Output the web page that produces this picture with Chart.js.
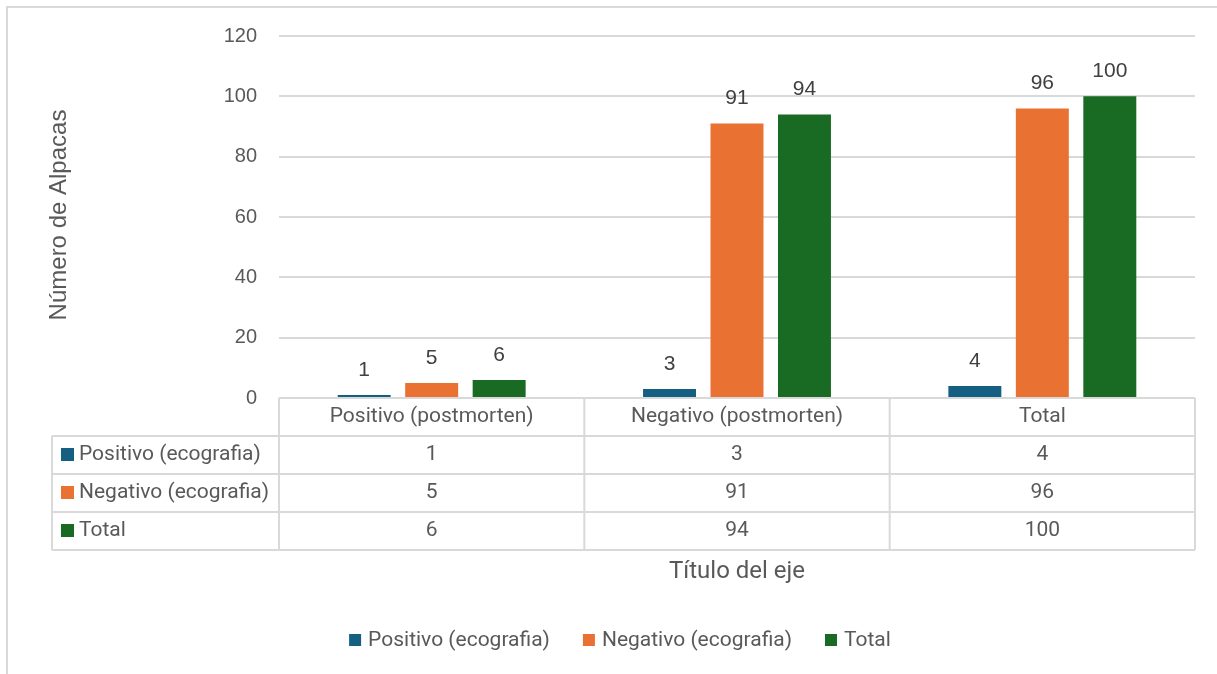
<!DOCTYPE html>
<html>
<head>
<meta charset="utf-8">
<script src="https://cdn.jsdelivr.net/npm/chart.js@4.4.1/dist/chart.umd.min.js"></script>
<style>
  html, body { margin: 0; padding: 0; background: #ffffff; }
  #wrap { position: relative; width: 1217px; height: 674px; }
</style>
</head>
<body>
<div id="wrap"><canvas id="c" width="1217" height="674"></canvas></div>
<script>
// Categories (postmortem result) and series (ultrasound result)
const categories = ['Positivo (postmorten)', 'Negativo (postmorten)', 'Total'];
const seriesNames = ['Positivo (ecografia)', 'Negativo (ecografia)', 'Total'];
const positivoEco = [1, 3, 4];
const negativoEco = [5, 91, 96];
const totalEco = [6, 94, 100];
const yTicks = [0, 20, 40, 60, 80, 100, 120];

const seriesColors = ['#156082', '#E97132', '#196B24'];
const textColor = '#595959';
const lineColor = '#D9D9D9';
const sans = '"Liberation Sans", Arial, sans-serif';
const narrow = 'Roboto, "Liberation Sans", sans-serif';

// Geometry of the chart area and the data table below it
const plotTop = 36, plotBottom = 398, plotLeft = 279, plotRight = 1195;
const tableLeft = 52, rowH = 38;

const seriesValues = [positivoEco, negativoEco, totalEco];

// Frame around the chart
const framePlugin = {
  id: 'frame',
  beforeDraw(chart) {
    const ctx = chart.ctx;
    ctx.save();
    ctx.strokeStyle = lineColor;
    ctx.lineWidth = 2;
    ctx.beginPath();
    ctx.moveTo(7, 674);
    ctx.lineTo(7, 7);
    ctx.lineTo(1217, 7);
    ctx.stroke();
    ctx.restore();
  }
};

// Value labels above every bar
const valueLabels = {
  id: 'valueLabels',
  afterDatasetsDraw(chart) {
    const ctx = chart.ctx;
    ctx.save();
    ctx.font = '21px ' + sans;
    ctx.fillStyle = '#404040';
    ctx.textAlign = 'center';
    ctx.textBaseline = 'middle';
    chart.data.datasets.forEach((ds, i) => {
      chart.getDatasetMeta(i).data.forEach((bar, j) => {
        ctx.fillText(String(ds.data[j]), bar.x, bar.y - 25);
      });
    });
    ctx.restore();
  }
};

// Data table under the axis, with legend keys
const dataTable = {
  id: 'dataTable',
  afterDraw(chart) {
    const ctx = chart.ctx;
    const x = chart.scales.x;
    const area = chart.chartArea;
    const n = categories.length;
    const colW = (area.right - area.left) / n;
    const top = area.bottom;
    const rows = chart.data.datasets.length;
    const bottom = top + rowH * (rows + 1);
    ctx.save();
    ctx.strokeStyle = lineColor;
    ctx.lineWidth = 2;
    ctx.beginPath();
    // horizontal lines
    ctx.moveTo(area.left, top); ctx.lineTo(area.right, top);
    for (let r = 1; r <= rows + 1; r++) {
      const y = top + rowH * r;
      ctx.moveTo(tableLeft, y); ctx.lineTo(area.right, y);
    }
    // vertical lines
    ctx.moveTo(tableLeft, top + rowH); ctx.lineTo(tableLeft, bottom);
    for (let c = 0; c <= n; c++) {
      const xx = area.left + colW * c;
      ctx.moveTo(xx, top); ctx.lineTo(xx, bottom);
    }
    ctx.stroke();

    ctx.fillStyle = textColor;
    ctx.font = '21px ' + narrow;
    ctx.textBaseline = 'middle';
    ctx.textAlign = 'center';
    categories.forEach((cat, c) => {
      ctx.fillText(cat, x.getPixelForValue(c), top + rowH / 2);
    });
    chart.data.datasets.forEach((ds, r) => {
      const yMid = top + rowH * (r + 1) + rowH / 2;
      ctx.fillStyle = ds.backgroundColor;
      ctx.fillRect(tableLeft + 9, yMid - 7, 13, 13);
      ctx.fillStyle = textColor;
      ctx.textAlign = 'left';
      ctx.fillText(ds.label, tableLeft + 27, yMid);
      ctx.textAlign = 'center';
      ds.data.forEach((v, c) => {
        ctx.fillText(String(v), x.getPixelForValue(c), yMid);
      });
    });

    // axis titles
    ctx.font = '24px ' + narrow;
    ctx.fillText('Título del eje', (area.left + area.right) / 2, 572);
    ctx.save();
    ctx.translate(59, 215);
    ctx.rotate(-Math.PI / 2);
    ctx.font = '24px ' + sans;
    ctx.fillText('Número de Alpacas', 0, 0);
    ctx.restore();

    // legend
    ctx.font = '21px ' + narrow;
    const gap = 33;
    const widths = chart.data.datasets.map(ds => 19 + ctx.measureText(ds.label).width);
    const total = widths.reduce((a, b) => a + b, 0) + gap * (widths.length - 1);
    let lx = 620 - total / 2;
    const ly = 641;
    chart.data.datasets.forEach((ds, i) => {
      ctx.fillStyle = ds.backgroundColor;
      ctx.fillRect(lx, ly - 7, 12, 12);
      ctx.fillStyle = textColor;
      ctx.textAlign = 'left';
      ctx.fillText(ds.label, lx + 19, ly);
      lx += widths[i] + gap;
    });
    ctx.restore();
  }
};

new Chart(document.getElementById('c'), {
  type: 'bar',
  data: {
    labels: categories,
    datasets: seriesNames.map((name, i) => ({
      label: name,
      data: seriesValues[i],
      backgroundColor: seriesColors[i],
      borderWidth: 0,
      categoryPercentage: 0.663,
      barPercentage: 0.785
    }))
  },
  options: {
    responsive: false,
    animation: false,
    events: [],
    layout: {
      padding: { left: 0, right: 1217 - plotRight, top: plotTop, bottom: 674 - plotBottom }
    },
    plugins: {
      legend: { display: false },
      tooltip: { enabled: false },
      title: { display: false }
    },
    scales: {
      x: {
        display: false,
        grid: { display: false }
      },
      y: {
        min: 0,
        max: 120,
        afterBuildTicks(scale) {
          scale.ticks = yTicks.map(v => ({ value: v }));
        },
        afterFit(scale) { scale.width = plotLeft; },
        border: { display: false },
        grid: { color: lineColor, lineWidth: 2, drawTicks: false },
        ticks: {
          padding: 22,
          color: textColor,
          font: { family: sans, size: 20 }
        }
      }
    }
  },
  plugins: [framePlugin, valueLabels, dataTable]
});
</script>
</body>
</html>
